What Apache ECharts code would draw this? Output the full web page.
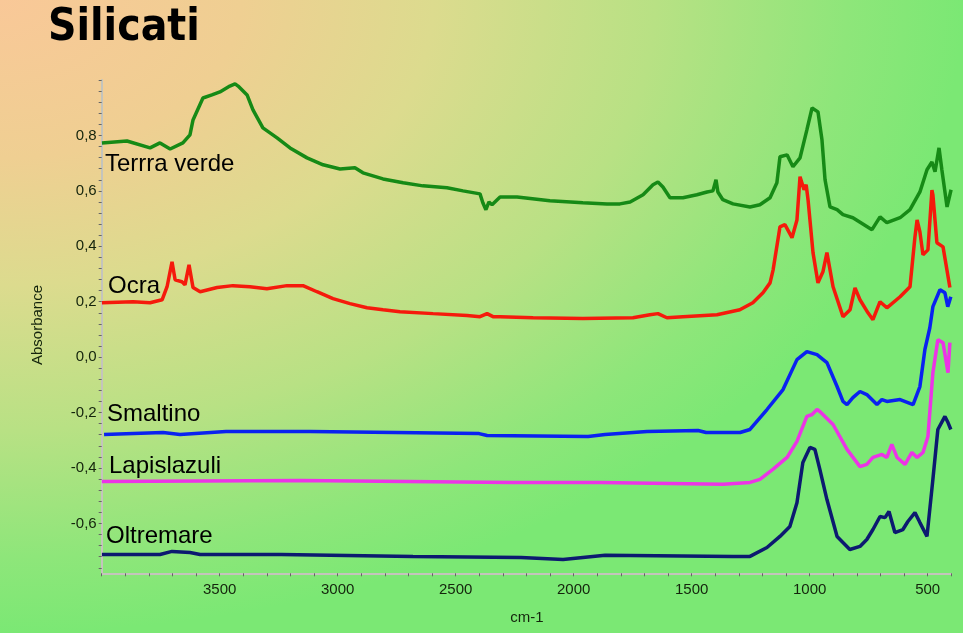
<!DOCTYPE html>
<html>
<head>
<meta charset="utf-8">
<script src="https://cdn.jsdelivr.net/npm/echarts@6/dist/echarts.min.js"></script>
<style>
html,body{margin:0;padding:0;width:963px;height:633px;overflow:hidden;}
body{background:radial-gradient(ellipse 100% 100% at 0% 0%, #f9c898 0%, #efcf92 25%, #dcdb8e 45%, #b8e184 68%, #8ee67a 88%, #7be874 100%);}
#chart{width:963px;height:633px;}
</style>
</head>
<body>
<div id="chart"></div>
<script>
// Tick labels
const xLabelValues = [500, 1000, 1500, 2000, 2500, 3000, 3500];
const yLabelValues = [-0.6, -0.4, -0.2, 0.0, 0.2, 0.4, 0.6, 0.8];
const seriesNames = ['Terrra verde', 'Ocra', 'Smaltino', 'Lapislazuli', 'Oltremare'];

// [wavenumber cm-1, absorbance]
const terraVerde = [[3999,0.773],[3893,0.780],[3795,0.755],[3753,0.773],[3710,0.751],[3656,0.773],[3626,0.802],[3613,0.856],[3571,0.935],[3533,0.946],[3499,0.957],[3457,0.978],[3435,0.986],[3422,0.978],[3384,0.946],[3359,0.892],[3317,0.827],[3257,0.791],[3202,0.755],[3130,0.719],[3062,0.694],[2990,0.679],[2927,0.683],[2893,0.665],[2808,0.643],[2723,0.629],[2639,0.618],[2537,0.611],[2469,0.600],[2397,0.589],[2385,0.557],[2372,0.532],[2359,0.560],[2346,0.550],[2312,0.578],[2240,0.578],[2101,0.564],[1961,0.557],[1859,0.553],[1804,0.553],[1761,0.560],[1706,0.586],[1664,0.622],[1643,0.632],[1622,0.614],[1592,0.575],[1537,0.575],[1478,0.586],[1435,0.596],[1410,0.600],[1397,0.640],[1389,0.596],[1368,0.568],[1325,0.553],[1253,0.542],[1211,0.550],[1168,0.575],[1139,0.629],[1126,0.723],[1096,0.730],[1071,0.687],[1041,0.719],[1012,0.820],[990,0.899],[965,0.885],[948,0.784],[935,0.640],[914,0.542],[884,0.532],[859,0.514],[817,0.503],[736,0.460],[702,0.506],[673,0.485],[617,0.503],[575,0.532],[533,0.596],[503,0.676],[482,0.704],[469,0.669],[452,0.755],[440,0.676],[418,0.542],[401,0.604]];

const ocra = [[3999,0.196],[3867,0.200],[3795,0.196],[3744,0.207],[3723,0.254],[3702,0.344],[3689,0.279],[3660,0.272],[3647,0.261],[3630,0.333],[3613,0.251],[3583,0.236],[3511,0.251],[3444,0.258],[3372,0.254],[3300,0.247],[3215,0.258],[3147,0.258],[3088,0.236],[3020,0.211],[2948,0.193],[2876,0.178],[2808,0.171],[2736,0.164],[2596,0.157],[2452,0.150],[2397,0.146],[2367,0.157],[2342,0.146],[2312,0.146],[2172,0.142],[1961,0.139],[1749,0.142],[1677,0.153],[1643,0.157],[1605,0.142],[1537,0.146],[1393,0.153],[1296,0.171],[1241,0.196],[1198,0.232],[1168,0.268],[1155,0.315],[1126,0.470],[1105,0.478],[1075,0.431],[1054,0.495],[1041,0.651],[1024,0.604],[1015,0.622],[1007,0.568],[986,0.377],[965,0.268],[944,0.308],[927,0.377],[901,0.254],[859,0.146],[829,0.171],[808,0.250],[787,0.207],[753,0.160],[732,0.135],[702,0.200],[673,0.178],[617,0.218],[575,0.254],[554,0.434],[545,0.495],[533,0.452],[520,0.369],[499,0.387],[482,0.603],[478,0.586],[461,0.413],[435,0.398],[406,0.251]];

const smaltino = [[3990,-0.279],[3740,-0.272],[3668,-0.279],[3473,-0.268],[3117,-0.268],[2757,-0.272],[2401,-0.276],[2367,-0.283],[1939,-0.286],[1867,-0.279],[1689,-0.268],[1473,-0.265],[1439,-0.272],[1295,-0.272],[1253,-0.261],[1181,-0.189],[1113,-0.117],[1054,-0.009],[1012,0.020],[969,0.009],[927,-0.020],[884,-0.106],[859,-0.160],[842,-0.171],[817,-0.146],[787,-0.124],[758,-0.135],[715,-0.171],[694,-0.153],[673,-0.160],[617,-0.153],[562,-0.171],[533,-0.106],[512,0.027],[491,0.106],[478,0.182],[448,0.243],[427,0.232],[415,0.182],[402,0.218]];

const lapislazuli = [[3999,-0.449],[3159,-0.445],[2261,-0.452],[1889,-0.452],[1367,-0.459],[1253,-0.452],[1211,-0.441],[1156,-0.405],[1096,-0.362],[1054,-0.304],[1012,-0.214],[990,-0.207],[969,-0.189],[957,-0.196],[901,-0.243],[842,-0.333],[787,-0.395],[758,-0.387],[732,-0.362],[694,-0.351],[673,-0.362],[652,-0.315],[630,-0.362],[596,-0.387],[567,-0.344],[545,-0.362],[520,-0.344],[499,-0.286],[478,-0.056],[457,0.063],[435,0.052],[414,-0.056],[406,0.052]];

const oltremare = [[3999,-0.712],[3753,-0.712],[3702,-0.701],[3626,-0.705],[3583,-0.712],[3240,-0.712],[2681,-0.719],[2223,-0.723],[2045,-0.730],[1867,-0.715],[1325,-0.719],[1253,-0.719],[1181,-0.687],[1126,-0.647],[1084,-0.611],[1054,-0.525],[1029,-0.380],[999,-0.326],[978,-0.333],[957,-0.405],[927,-0.514],[884,-0.647],[830,-0.694],[787,-0.683],[758,-0.658],[732,-0.622],[702,-0.575],[681,-0.579],[664,-0.557],[639,-0.633],[605,-0.622],[584,-0.593],[554,-0.561],[533,-0.597],[503,-0.647],[478,-0.441],[457,-0.261],[427,-0.214],[414,-0.236],[402,-0.261]];

const seriesData = [terraVerde, ocra, smaltino, lapislazuli, oltremare];
const seriesColors = ['#168a16', '#f51a0c', '#0a22f0', '#ec34e6', '#0c1a70'];

const xTicks = [];
for (let v = 400; v <= 4000; v += 100) xTicks.push(v);
const yTicks = [];
for (let k = -19; k <= 25; k++) yTicks.push(+(k * 0.04).toFixed(2));

const chart = echarts.init(document.getElementById('chart'), null, {renderer: 'canvas'});
const font = '"Liberation Sans", Arial, sans-serif';

const option = {
  backgroundColor: 'transparent',
  animation: false,
  grid: {left: 101.7, right: 11.7, top: 80, bottom: 59.7, containLabel: false},
  xAxis: {
    type: 'value', min: 400, max: 4000, inverse: true,
    axisLine: {show: true, onZero: false, lineStyle: {color: '#c4c4bc', width: 2}},
    axisTick: {show: true, customValues: xTicks, length: 3, lineStyle: {color: '#666', width: 1}},
    axisLabel: {customValues: xLabelValues, margin: 9, color: '#14240c', fontSize: 15, fontFamily: font,
      formatter: v => String(v)},
    splitLine: {show: false}
  },
  yAxis: {
    type: 'value', min: -0.78, max: 1.0,
    axisLine: {show: true, onZero: false, lineStyle: {color: '#c4c4bc', width: 2}},
    axisTick: {show: true, customValues: yTicks, length: 3, lineStyle: {color: '#666', width: 1}},
    axisLabel: {customValues: yLabelValues, margin: 5, color: '#14240c', fontSize: 15, fontFamily: font,
      formatter: v => (Math.abs(v) < 1e-9 ? 0 : v).toFixed(1).replace('.', ',')},
    splitLine: {show: false}
  },
  series: seriesNames.map((name, i) => ({
    name: name, type: 'line', data: seriesData[i], showSymbol: false, symbol: 'none',
    lineStyle: {color: seriesColors[i], width: 3.5}, itemStyle: {color: seriesColors[i]}
  })),
  graphic: [
    {type: 'text', left: 48, top: 7, style: {text: 'Silicati', font: 'bold 44px "DejaVu Sans Condensed", "DejaVu Sans", sans-serif', fill: '#000'}},
    {type: 'text', x: 105, y: 164, style: {text: seriesNames[0], font: '24px ' + font, fill: '#000', verticalAlign: 'middle'}},
    {type: 'text', x: 108, y: 286, style: {text: seriesNames[1], font: '24px ' + font, fill: '#000', verticalAlign: 'middle'}},
    {type: 'text', x: 107, y: 414, style: {text: seriesNames[2], font: '24px ' + font, fill: '#000', verticalAlign: 'middle'}},
    {type: 'text', x: 109, y: 466, style: {text: seriesNames[3], font: '24px ' + font, fill: '#000', verticalAlign: 'middle'}},
    {type: 'text', x: 106, y: 536, style: {text: seriesNames[4], font: '24px ' + font, fill: '#000', verticalAlign: 'middle'}},
    {type: 'text', x: 527, y: 618, style: {text: 'cm-1', font: '15px ' + font, fill: '#14240c', align: 'center', verticalAlign: 'middle'}},
    {type: 'text', x: 38, y: 325, rotation: Math.PI / 2, style: {text: 'Absorbance', font: '15px ' + font, fill: '#14240c', align: 'center', verticalAlign: 'middle'}}
  ]
};
chart.setOption(option);
</script>
</body>
</html>
